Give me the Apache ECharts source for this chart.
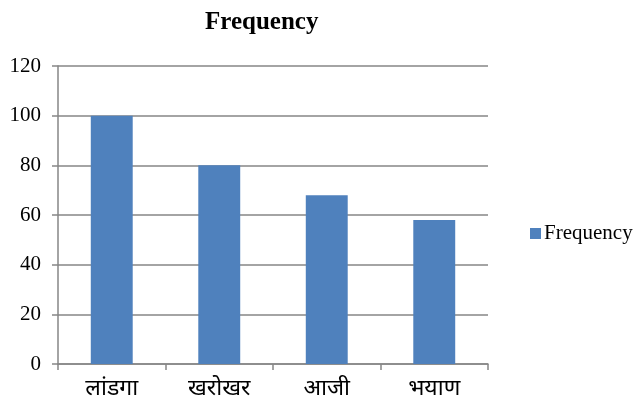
<!DOCTYPE html>
<html><head><meta charset="utf-8">
<script src="https://cdn.jsdelivr.net/npm/echarts@6/dist/echarts.min.js"></script>
<style>html,body{margin:0;padding:0;background:#fff}#c{width:636px;height:405px}</style>
</head><body><div id="c"></div>
<script>
const categories = ['लांडगा', 'खरोखर', 'आजी', 'भयाण'];
const frequency = [100, 80, 68, 58];
const seriesName = 'Frequency';
const chart = echarts.init(document.getElementById('c'));
const serif = '"Liberation Serif", "Times New Roman", serif';
chart.setOption({
  animation: false,
  title: { text: 'Frequency', left: 200, top: 5,
    textStyle: { fontFamily: serif, fontWeight: 'bold', fontSize: 25, color: '#000' } },
  legend: { left: 525, top: 218, itemWidth: 11, itemHeight: 11, itemGap: 4,
    icon: 'rect', textStyle: { fontFamily: serif, fontSize: 21, color: '#000', padding: [0,0,0,-2] } },
  grid: { left: 58, right: 148, top: 66, bottom: 41, containLabel: false },
  xAxis: { type: 'category', data: categories,
    axisLine: { lineStyle: { color: '#868686', width: 1.5 } },
    axisTick: { show: true, length: 6, lineStyle: { color: '#868686', width: 1.5 } },
    axisLabel: { fontFamily: '"Noto Sans", "DejaVu Sans", sans-serif', fontSize: 23, color: '#000', margin: 13 } },
  yAxis: { type: 'value', min: 0, max: 120, interval: 20,
    axisLine: { show: true, lineStyle: { color: '#868686', width: 1.5 } },
    axisTick: { show: true, length: 6, lineStyle: { color: '#868686', width: 1.5 } },
    splitLine: { lineStyle: { color: '#868686', width: 1.5 } },
    axisLabel: { fontFamily: serif, fontSize: 21, color: '#000', margin: 17 } },
  series: [{ name: seriesName, type: 'bar', data: frequency, barWidth: '39%',
    itemStyle: { color: '#4F81BD' } }]
});
</script></body></html>
